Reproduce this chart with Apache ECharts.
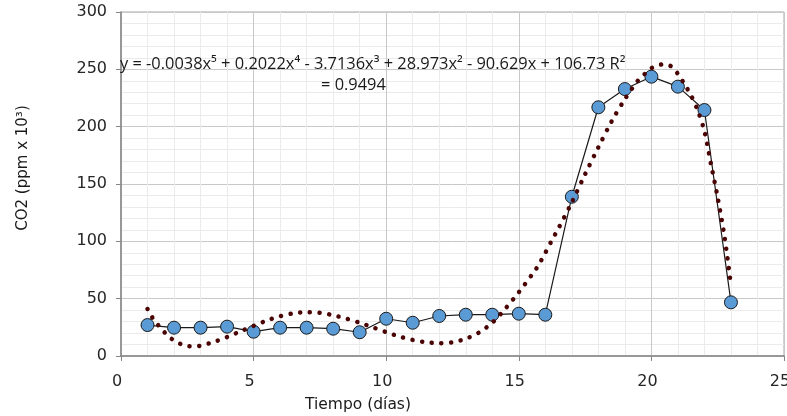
<!DOCTYPE html>
<html>
<head>
<meta charset="utf-8">
<script src="https://cdn.jsdelivr.net/npm/echarts@6/dist/echarts.min.js"></script>
<style>
html,body{margin:0;padding:0;background:#fff;}
#chart{width:787px;height:416px;}
</style>
</head>
<body>
<div id="chart"></div>
<script>
// Measured data (Tiempo in días, CO2 in ppm x 10^3)
const days = [1,2,3,4,5,6,7,8,9,10,11,12,13,14,15,16,17,18,19,20,21,22,23];
const co2  = [27.0,24.7,24.7,25.6,21.2,24.7,24.7,23.8,20.7,32.5,29.0,34.9,36.0,36.0,36.9,36.0,138.9,216.9,232.8,243.6,234.9,214.5,46.8];

// Polynomial trendline
const trendX = [1.0,1.25,1.5,1.75,2.0,2.25,2.5,2.75,3.0,3.5,4.0,4.5,5.0,5.5,6.0,6.5,7.0,7.5,8.0,8.5,9.0,9.5,10.0,10.5,11.0,11.5,12.0,12.5,13.0,13.5,14.0,14.5,15.0,15.5,15.75,16.0,16.25,16.5,17.0,17.5,18.0,18.5,19.0,19.5,19.75,20.0,20.25,20.5,20.75,21.0,21.25,21.5,21.75,22.0,22.25,22.5,22.75,23.0];
const trendY = [41,31,24.5,18,13.5,10.5,8.8,8.3,9,12.3,16.5,21.5,26.3,31,34.7,37.2,38.2,37.6,35.6,32.6,29,25,20.8,17,14,12,11.2,12,15,20.5,29,41.5,55.6,71,79.5,90,101,111.5,134,158.5,182,204.6,224,240.5,246,251,253.5,254.5,252.5,246,237,227,214,196,167,138,105,62];

// Axis ticks and texts
const xTicks = {min:0, max:25, interval:5};
const yTicks = {min:0, max:300, interval:50};
const eqLine1 = 'y = -0.0038x\u2075 + 0.2022x\u2074 - 3.7136x\u00B3 + 28.973x\u00B2 - 90.629x + 106.73 R\u00B2';
const eqLine2 = '= 0.9494';
const xName = 'Tiempo (días)';
const yName = 'CO2 (ppm x 10\u00B3)';

const chart = echarts.init(document.getElementById('chart'), null, {renderer:'canvas'});
const option = {
  backgroundColor:'#ffffff',
  animation:false,
  grid:{left:121, right:3, top:12, bottom:60, show:true, borderColor:'#a6a6a6', borderWidth:1, backgroundColor:'transparent', outerBoundsMode:'none', containLabel:false},
  xAxis:{
    type:'value', min:xTicks.min, max:xTicks.max, interval:xTicks.interval,
    axisLine:{show:true, onZero:false, lineStyle:{color:'#868686', width:1.5}},
    axisTick:{show:true, length:5, lineStyle:{color:'#868686'}},
    axisLabel:{color:'#262626', fontFamily:'DejaVu Sans', fontSize:16, margin:18, padding:[0,8,0,0]},
    splitLine:{show:true, lineStyle:{color:'#c8c8c8'}},
    minorTick:{show:false, splitNumber:5},
    minorSplitLine:{show:true, lineStyle:{color:'#ebebeb'}}
  },
  yAxis:{
    type:'value', min:yTicks.min, max:yTicks.max, interval:yTicks.interval,
    axisLine:{show:true, onZero:false, lineStyle:{color:'#868686', width:1.5}},
    axisTick:{show:true, length:5, lineStyle:{color:'#868686'}},
    axisLabel:{color:'#262626', fontFamily:'DejaVu Sans', fontSize:16, margin:14, padding:[12,0,0,0]},
    splitLine:{show:true, lineStyle:{color:'#c8c8c8'}},
    minorTick:{show:false, splitNumber:5},
    minorSplitLine:{show:true, lineStyle:{color:'#ebebeb'}}
  },
  graphic:[
    {type:'text', left:120, top:56, style:{text:eqLine1, font:'16.4px "Open Sans"', fill:'#1a1a1a'}, z:100},
    {type:'text', left:321, top:77, style:{text:eqLine2, font:'16.4px "Open Sans"', fill:'#1a1a1a'}, z:100},
    {type:'text', x:358, y:405, style:{text:xName, font:'15.5px "DejaVu Sans"', fill:'#1a1a1a', align:'center', verticalAlign:'middle'}},
    {type:'text', x:23, y:168, rotation:Math.PI/2, style:{text:yName, font:'15px "DejaVu Sans"', fill:'#1a1a1a', align:'center', verticalAlign:'middle'}}
  ],
  series:[
    {
      type:'line',
      data:days.map((d,i)=>[d, co2[i]]),
      symbol:'circle', symbolSize:13,
      itemStyle:{color:'#5b9bd5', borderColor:'#1a1a1a', borderWidth:1},
      lineStyle:{color:'#1a1a1a', width:1.2},
      z:2
    },
    {
      type:'line',
      data:trendX.map((x,i)=>[x, trendY[i]]),
      symbol:'none', smooth:0.3,
      lineStyle:{color:'#4a0404', width:4.5, type:[0.1,9.6], cap:'round'},
      z:3
    }
  ]
};
chart.setOption(option);
</script>
</body>
</html>
